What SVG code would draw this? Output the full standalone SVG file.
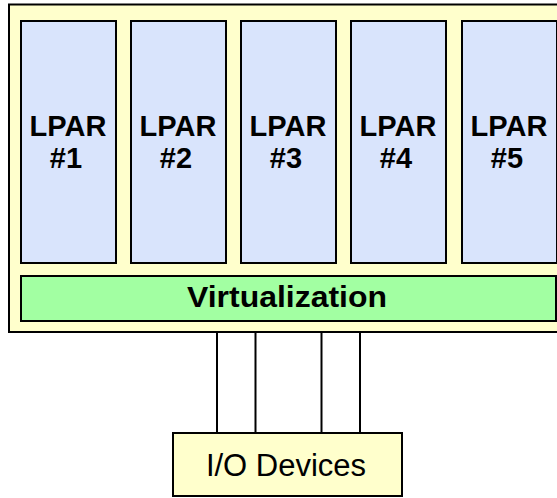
<svg xmlns="http://www.w3.org/2000/svg" width="557" height="498" viewBox="0 0 557 498">
<style>
.frame{fill:#FFFFCC;stroke:#000;stroke-width:2}
.lpar{fill:#D9E4FC;stroke:#000;stroke-width:2}
.virt{fill:#A2FFA2;stroke:#000;stroke-width:2}
.io{fill:#FFFFCC;stroke:#000;stroke-width:2}
.b{font-family:"Liberation Sans",Arial,sans-serif;font-weight:bold;font-size:29px;fill:#000;text-anchor:middle}
.r{font-family:"Liberation Sans",Arial,sans-serif;font-size:31px;fill:#000;text-anchor:middle}
.conn{stroke:#000;stroke-width:2;fill:none}
</style>
<g id="system">
<rect class="frame" x="9" y="4.5" width="560" height="327.5"/>
</g>
<g id="lpar1"><rect class="lpar" x="21" y="21" width="95" height="242"/><text class="b" x="68" y="136">LPAR</text><text class="b" x="66" y="168">#1</text></g>
<g id="lpar2"><rect class="lpar" x="131" y="21" width="95" height="242"/><text class="b" x="178" y="136">LPAR</text><text class="b" x="176" y="168">#2</text></g>
<g id="lpar3"><rect class="lpar" x="241" y="21" width="95" height="242"/><text class="b" x="288" y="136">LPAR</text><text class="b" x="286" y="168">#3</text></g>
<g id="lpar4"><rect class="lpar" x="351" y="21" width="95" height="242"/><text class="b" x="398" y="136">LPAR</text><text class="b" x="396" y="168">#4</text></g>
<g id="lpar5"><rect class="lpar" x="462" y="21" width="95" height="242"/><text class="b" x="509" y="136">LPAR</text><text class="b" x="507" y="168">#5</text></g>
<g id="virtualization"><rect class="virt" x="21" y="276" width="535" height="45"/><text class="b" x="287" y="307" textLength="200" lengthAdjust="spacingAndGlyphs">Virtualization</text></g>
<g id="connectors">
<line class="conn" x1="217" y1="332" x2="217" y2="433"/>
<line class="conn" x1="255.5" y1="332" x2="255.5" y2="433"/>
<line class="conn" x1="321.5" y1="332" x2="321.5" y2="433"/>
<line class="conn" x1="360" y1="332" x2="360" y2="433"/>
</g>
<g id="io"><rect class="io" x="173" y="433" width="229" height="63"/><text class="r" x="286" y="476">I/O Devices</text></g>
</svg>
